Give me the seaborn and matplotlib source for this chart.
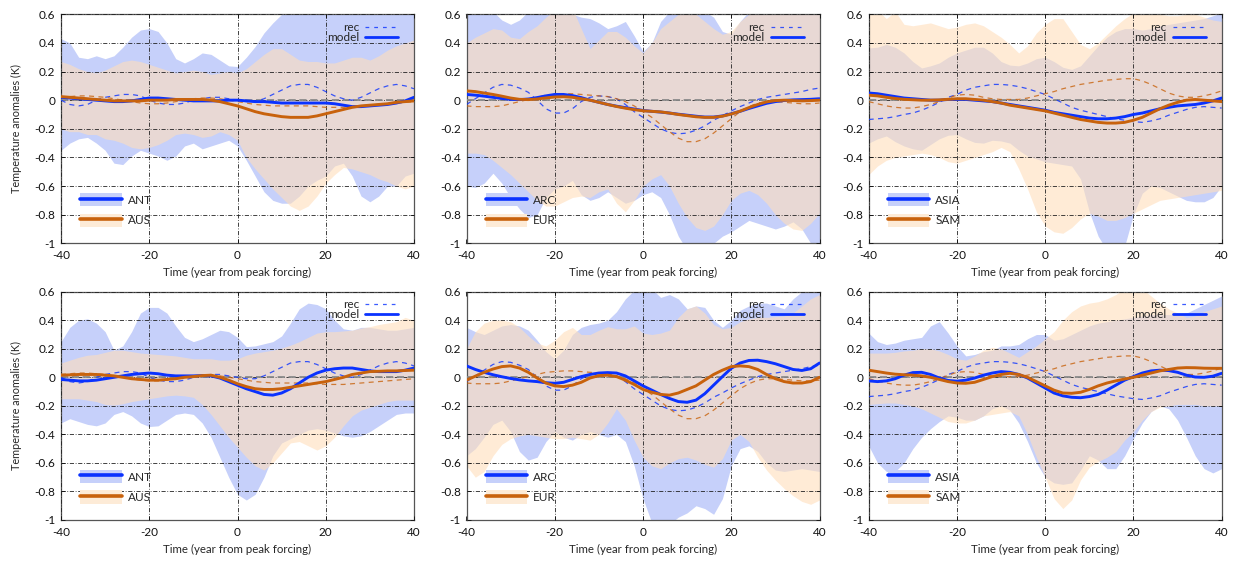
import matplotlib
matplotlib.use("Agg")
import matplotlib.pyplot as plt
from matplotlib.lines import Line2D
from matplotlib.patches import Patch
import seaborn as sns

# time axis (years from peak forcing)
years = list(range(-40, 41, 2))

# reconstructions (same in both rows)
rec_ant = [0.00, -0.03, -0.04, -0.03, 0.00, 0.02, 0.03, 0.04, 0.04, 0.03,
           0.00, -0.02, -0.03, -0.03, -0.02, 0.00, 0.01, 0.02, 0.02, 0.01,
           0.00, -0.01, -0.01, 0.01, 0.04, 0.07, 0.10, 0.11, 0.11, 0.09,
           0.06, 0.03, 0.01, 0.00, 0.02, 0.05, 0.08, 0.10, 0.11, 0.10,
           0.08]
rec_aus = [0.02, 0.025, 0.03, 0.03, 0.025, 0.02, 0.01, 0.0, -0.01, -0.02,
           -0.025, -0.025, -0.02, -0.01, 0.0, 0.01, 0.015, 0.015, 0.01, 0.0,
           -0.01, -0.02, -0.03, -0.035, -0.04, -0.04, -0.04, -0.04, -0.04, -0.045,
           -0.05, -0.05, -0.05, -0.045, -0.04, -0.035, -0.03, -0.025, -0.02, -0.015,
           -0.01]
rec_arc = [-0.03, 0.01, 0.05, 0.09, 0.11, 0.105, 0.085, 0.055, 0.0, -0.06,
           -0.09, -0.09, -0.06, -0.01, 0.02, 0.03, 0.025, 0.01, -0.03, -0.08,
           -0.12, -0.16, -0.20, -0.225, -0.235, -0.23, -0.21, -0.18, -0.14, -0.11,
           -0.075, -0.045, -0.02, 0.005, 0.02, 0.03, 0.04, 0.05, 0.06, 0.075,
           0.085]
rec_eur = [-0.04, -0.045, -0.045, -0.045, -0.04, -0.025, -0.01, 0.005, 0.02, 0.035,
           0.04, 0.045, 0.045, 0.04, 0.035, 0.03, 0.025, 0.01, -0.01, -0.04,
           -0.08, -0.12, -0.17, -0.22, -0.265, -0.29, -0.29, -0.27, -0.23, -0.18,
           -0.13, -0.08, -0.045, -0.02, -0.01, -0.01, -0.015, -0.02, -0.025, -0.025,
           -0.02]
rec_asia = [-0.135, -0.13, -0.125, -0.115, -0.10, -0.09, -0.07, -0.045, -0.015, 0.02,
            0.04, 0.07, 0.09, 0.10, 0.11, 0.11, 0.105, 0.095, 0.08, 0.06,
            0.04, 0.01, -0.02, -0.05, -0.07, -0.085, -0.10, -0.115, -0.13, -0.14,
            -0.15, -0.155, -0.145, -0.13, -0.105, -0.085, -0.065, -0.05, -0.045, -0.05,
            -0.055]
rec_sam = [-0.01, -0.025, -0.04, -0.05, -0.055, -0.055, -0.045, -0.03, -0.01, 0.015,
           0.035, 0.04, 0.035, 0.02, 0.01, 0.005, 0.005, 0.005, 0.015, 0.03,
           0.045, 0.06, 0.08, 0.095, 0.11, 0.12, 0.13, 0.14, 0.145, 0.15,
           0.15, 0.135, 0.11, 0.08, 0.05, 0.03, 0.02, 0.02, 0.03, 0.045,
           0.065]

# top row: model mean and spread
top_ant = [0.02, 0.015, 0.01, 0.005, 0.0, -0.005, -0.01, -0.01, -0.005, 0.005,
           0.015, 0.015, 0.01, 0.005, 0.0, -0.005, -0.005, -0.005, -0.005, 0.0,
           0.0, -0.005, -0.01, -0.01, -0.015, -0.02, -0.02, -0.02, -0.02, -0.02,
           -0.02, -0.025, -0.035, -0.045, -0.045, -0.04, -0.035, -0.03, -0.02, -0.005,
           0.02]
top_aus = [0.025, 0.02, 0.015, 0.01, 0.005, 0.0, -0.005, -0.005, -0.005, -0.005,
           0.0, 0.0, 0.0, 0.005, 0.005, 0.005, 0.005, 0.0, -0.01, -0.025,
           -0.04, -0.06, -0.08, -0.095, -0.105, -0.115, -0.12, -0.12, -0.12, -0.11,
           -0.095, -0.08, -0.065, -0.05, -0.04, -0.035, -0.03, -0.025, -0.015, -0.01,
           -0.005]
top_arc = [0.04, 0.035, 0.028, 0.02, 0.012, 0.006, 0.004, 0.008, 0.018, 0.03,
           0.04, 0.04, 0.032, 0.018, 0.0, -0.015, -0.03, -0.042, -0.052, -0.062,
           -0.072, -0.078, -0.083, -0.09, -0.098, -0.105, -0.112, -0.118, -0.118, -0.11,
           -0.095, -0.078, -0.058, -0.04, -0.022, -0.01, -0.002, 0.002, 0.004, 0.006,
           0.01]
top_eur = [0.065, 0.06, 0.05, 0.04, 0.028, 0.015, 0.006, 0.004, 0.008, 0.016,
           0.022, 0.024, 0.02, 0.01, 0.0, -0.015, -0.03, -0.044, -0.056, -0.066,
           -0.074, -0.078, -0.082, -0.09, -0.1, -0.108, -0.116, -0.12, -0.12, -0.112,
           -0.097, -0.077, -0.052, -0.03, -0.012, -0.003, 0.0, -0.003, -0.005, -0.003,
           0.0]
top_asia = [0.05, 0.045, 0.035, 0.025, 0.015, 0.01, 0.005, 0.0, 0.0, 0.005,
            0.005, 0.005, 0.0, -0.005, -0.01, -0.02, -0.03, -0.04, -0.05, -0.06,
            -0.07, -0.085, -0.095, -0.105, -0.115, -0.125, -0.13, -0.13, -0.125, -0.115,
            -0.10, -0.09, -0.075, -0.06, -0.05, -0.04, -0.035, -0.03, -0.02, -0.005,
            0.015]
top_sam = [0.035, 0.03, 0.02, 0.012, 0.006, 0.003, 0.0, 0.0, 0.002, 0.006,
           0.01, 0.01, 0.005, 0.0, -0.01, -0.02, -0.035, -0.045, -0.055, -0.065,
           -0.075, -0.09, -0.105, -0.12, -0.135, -0.145, -0.155, -0.16, -0.16, -0.155,
           -0.14, -0.12, -0.09, -0.06, -0.035, -0.015, 0.0, 0.005, 0.0, -0.005,
           -0.01]

top_ant_hi = [0.43, 0.40, 0.30, 0.29, 0.31, 0.29, 0.31, 0.37, 0.44, 0.49,
              0.50, 0.48, 0.40, 0.29, 0.26, 0.29, 0.33, 0.32, 0.28, 0.24,
              0.235, 0.30, 0.375, 0.47, 0.54, 0.60, 0.64, 0.66, 0.66, 0.65,
              0.64, 0.63, 0.62, 0.63, 0.64, 0.65, 0.65, 0.64, 0.63, 0.64,
              0.66]
top_ant_lo = [-0.35, -0.30, -0.27, -0.26, -0.30, -0.35, -0.44, -0.45, -0.39, -0.35,
              -0.37, -0.39, -0.42, -0.39, -0.32, -0.30, -0.34, -0.32, -0.30, -0.28,
              -0.32, -0.42, -0.53, -0.64, -0.70, -0.72, -0.72, -0.67, -0.60, -0.56,
              -0.53, -0.46, -0.44, -0.53, -0.67, -0.71, -0.67, -0.60, -0.60, -0.53,
              -0.51]
top_aus_hi = [0.27, 0.25, 0.22, 0.20, 0.19, 0.21, 0.24, 0.27, 0.28, 0.27,
              0.25, 0.23, 0.21, 0.19, 0.20, 0.21, 0.20, 0.18, 0.19, 0.20,
              0.19, 0.22, 0.27, 0.32, 0.36, 0.36, 0.32, 0.28, 0.27, 0.27,
              0.26, 0.26, 0.28, 0.30, 0.30, 0.28, 0.31, 0.35, 0.38, 0.40,
              0.42]
top_aus_lo = [-0.20, -0.22, -0.22, -0.24, -0.24, -0.27, -0.28, -0.30, -0.33, -0.34,
              -0.33, -0.31, -0.28, -0.24, -0.23, -0.24, -0.26, -0.25, -0.22, -0.24,
              -0.28, -0.40, -0.48, -0.55, -0.62, -0.68, -0.74, -0.77, -0.74, -0.67,
              -0.58, -0.52, -0.47, -0.48, -0.50, -0.52, -0.55, -0.57, -0.60, -0.62,
              -0.60]
top_arc_hi = [0.62, 0.64, 0.64, 0.62, 0.56, 0.53, 0.56, 0.62, 0.64, 0.64,
              0.63, 0.62, 0.60, 0.58, 0.57, 0.54, 0.50, 0.52, 0.55, 0.45,
              0.34, 0.40, 0.55, 0.62, 0.64, 0.64, 0.63, 0.62, 0.58, 0.48,
              0.46, 0.55, 0.62, 0.64, 0.65, 0.65, 0.64, 0.64, 0.64, 0.65,
              0.65]
top_arc_lo = [-0.60, -0.61, -0.58, -0.51, -0.58, -0.68, -0.76, -0.82, -0.80, -0.68,
              -0.62, -0.60, -0.56, -0.66, -0.70, -0.68, -0.64, -0.68, -0.72, -0.70,
              -0.66, -0.64, -0.68, -0.80, -0.95, -1.05, -1.08, -1.06, -1.00, -0.95,
              -0.92, -0.88, -0.84, -0.86, -0.88, -0.90, -0.88, -0.85, -0.90, -1.00,
              -1.05]
top_eur_hi = [0.40, 0.44, 0.47, 0.50, 0.49, 0.44, 0.43, 0.48, 0.52, 0.58,
              0.63, 0.66, 0.64, 0.50, 0.36, 0.42, 0.48, 0.48, 0.44, 0.38,
              0.33, 0.40, 0.50, 0.55, 0.60, 0.62, 0.60, 0.55, 0.50, 0.46,
              0.48, 0.55, 0.60, 0.62, 0.63, 0.63, 0.63, 0.62, 0.62, 0.63,
              0.64]
top_eur_lo = [-0.37, -0.37, -0.38, -0.42, -0.47, -0.52, -0.58, -0.64, -0.70, -0.74,
              -0.74, -0.71, -0.68, -0.67, -0.68, -0.64, -0.62, -0.72, -0.78, -0.70,
              -0.60, -0.55, -0.52, -0.60, -0.72, -0.82, -0.89, -0.91, -0.88, -0.80,
              -0.70, -0.65, -0.63, -0.66, -0.72, -0.80, -0.86, -0.90, -0.91, -0.86,
              -0.79]
top_asia_hi = [0.365, 0.37, 0.39, 0.37, 0.33, 0.27, 0.225, 0.24, 0.26, 0.30,
               0.33, 0.35, 0.37, 0.37, 0.33, 0.27, 0.245, 0.24, 0.26, 0.29,
               0.30, 0.27, 0.23, 0.215, 0.24, 0.31, 0.38, 0.44, 0.48, 0.50,
               0.50, 0.49, 0.50, 0.52, 0.53, 0.54, 0.55, 0.56, 0.57, 0.59,
               0.61]
top_asia_lo = [-0.30, -0.27, -0.25, -0.29, -0.32, -0.34, -0.35, -0.31, -0.27, -0.245,
               -0.24, -0.27, -0.295, -0.30, -0.28, -0.285, -0.30, -0.35, -0.39, -0.41,
               -0.43, -0.44, -0.45, -0.46, -0.55, -0.78, -0.95, -1.05, -1.07, -1.02,
               -0.80, -0.65, -0.60, -0.61, -0.64, -0.67, -0.70, -0.71, -0.71, -0.68,
               -0.60]
top_sam_hi = [0.64, 0.63, 0.57, 0.62, 0.53, 0.52, 0.53, 0.54, 0.52, 0.50,
              0.51, 0.53, 0.54, 0.52, 0.48, 0.44, 0.39, 0.33, 0.38, 0.47,
              0.53, 0.57, 0.57, 0.48, 0.39, 0.36, 0.40, 0.46, 0.52, 0.57,
              0.61, 0.63, 0.62, 0.60, 0.59, 0.59, 0.60, 0.60, 0.58, 0.56,
              0.55]
top_sam_lo = [-0.52, -0.46, -0.42, -0.40, -0.39, -0.38, -0.37, -0.38, -0.40, -0.43,
              -0.44, -0.42, -0.40, -0.38, -0.36, -0.33, -0.36, -0.48, -0.62, -0.78,
              -0.88, -0.92, -0.93, -0.89, -0.83, -0.79, -0.81, -0.84, -0.84, -0.82,
              -0.79, -0.76, -0.73, -0.70, -0.69, -0.68, -0.67, -0.66, -0.65, -0.64,
              -0.63]

# bottom row: model mean and spread
bot_ant = [-0.015, -0.02, -0.025, -0.025, -0.02, -0.01, 0.0, 0.01, 0.02, 0.025,
           0.03, 0.025, 0.015, 0.01, 0.01, 0.01, 0.012, 0.01, -0.005, -0.03,
           -0.055, -0.08, -0.10, -0.12, -0.125, -0.11, -0.08, -0.04, 0.0, 0.03,
           0.05, 0.06, 0.065, 0.065, 0.055, 0.045, 0.04, 0.04, 0.04, 0.05,
           0.065]
bot_aus = [0.015, 0.017, 0.02, 0.02, 0.02, 0.015, 0.01, 0.0, -0.01, -0.015,
           -0.02, -0.02, -0.015, -0.01, 0.0, 0.005, 0.012, 0.015, 0.0, -0.02,
           -0.045, -0.065, -0.08, -0.085, -0.085, -0.08, -0.07, -0.06, -0.05, -0.04,
           -0.03, -0.015, 0.0, 0.02, 0.03, 0.04, 0.042, 0.045, 0.045, 0.048,
           0.05]
bot_arc = [0.08, 0.055, 0.035, 0.018, 0.004, -0.008, -0.018, -0.025, -0.03, -0.038,
           -0.042, -0.035, -0.015, 0.005, 0.02, 0.03, 0.033, 0.03, 0.01, -0.025,
           -0.06, -0.09, -0.12, -0.148, -0.17, -0.175, -0.16, -0.115, -0.055, 0.005,
           0.063, 0.10, 0.118, 0.12, 0.11, 0.095, 0.075, 0.055, 0.048, 0.06,
           0.10]
bot_eur = [-0.02, 0.008, 0.035, 0.058, 0.075, 0.08, 0.065, 0.035, -0.005, -0.04,
           -0.06, -0.065, -0.055, -0.035, -0.005, 0.012, 0.015, 0.005, -0.02, -0.05,
           -0.085, -0.105, -0.12, -0.125, -0.11, -0.085, -0.06, -0.02, 0.02, 0.05,
           0.075, 0.08, 0.075, 0.055, 0.02, -0.01, -0.03, -0.04, -0.04, -0.03,
           0.0]
bot_asia = [-0.025, -0.03, -0.025, -0.01, 0.015, 0.033, 0.035, 0.02, -0.005, -0.022,
            -0.027, -0.02, -0.005, 0.015, 0.03, 0.04, 0.035, 0.02, -0.005, -0.04,
            -0.075, -0.11, -0.13, -0.14, -0.143, -0.135, -0.12, -0.09, -0.055, -0.02,
            0.005, 0.03, 0.045, 0.05, 0.047, 0.035, 0.015, 0.002, 0.0, 0.008,
            0.028]
bot_sam = [0.05, 0.04, 0.03, 0.022, 0.018, 0.015, 0.01, 0.0, -0.015, -0.03,
           -0.04, -0.042, -0.035, -0.015, 0.005, 0.02, 0.028, 0.02, 0.0, -0.03,
           -0.06, -0.09, -0.11, -0.112, -0.105, -0.085, -0.06, -0.04, -0.025, -0.012,
           0.0, 0.015, 0.03, 0.045, 0.055, 0.065, 0.068, 0.067, 0.064, 0.063,
           0.063]

bot_ant_hi = [0.25, 0.35, 0.40, 0.41, 0.38, 0.32, 0.19, 0.22, 0.32, 0.45,
              0.49, 0.49, 0.45, 0.36, 0.28, 0.25, 0.27, 0.30, 0.33, 0.32,
              0.28, 0.215, 0.22, 0.235, 0.25, 0.29, 0.38, 0.48, 0.52, 0.51,
              0.48, 0.40, 0.34, 0.33, 0.35, 0.35, 0.34, 0.33, 0.33, 0.34,
              0.35]
bot_ant_lo = [-0.32, -0.29, -0.31, -0.33, -0.34, -0.32, -0.26, -0.24, -0.27, -0.32,
              -0.345, -0.34, -0.30, -0.26, -0.25, -0.26, -0.32, -0.42, -0.56, -0.70,
              -0.82, -0.86, -0.82, -0.70, -0.55, -0.46, -0.43, -0.40, -0.37, -0.36,
              -0.37, -0.39, -0.41, -0.42, -0.41, -0.38, -0.34, -0.30, -0.26, -0.25,
              -0.25]
bot_aus_hi = [0.10, 0.12, 0.14, 0.155, 0.16, 0.175, 0.19, 0.19, 0.18, 0.17,
              0.165, 0.16, 0.155, 0.15, 0.14, 0.13, 0.13, 0.13, 0.12, 0.12,
              0.13, 0.155, 0.17, 0.18, 0.19, 0.205, 0.225, 0.25, 0.28, 0.31,
              0.32, 0.32, 0.325, 0.33, 0.345, 0.355, 0.37, 0.38, 0.39, 0.42,
              0.40]
bot_aus_lo = [-0.15, -0.15, -0.15, -0.16, -0.17, -0.19, -0.195, -0.185, -0.17, -0.16,
              -0.15, -0.14, -0.13, -0.125, -0.13, -0.14, -0.19, -0.26, -0.34, -0.42,
              -0.49, -0.56, -0.62, -0.65, -0.60, -0.53, -0.46, -0.45, -0.48, -0.51,
              -0.48, -0.42, -0.34, -0.27, -0.23, -0.21, -0.19, -0.17, -0.16, -0.16,
              -0.16]
bot_arc_hi = [0.35, 0.32, 0.30, 0.33, 0.36, 0.37, 0.36, 0.33, 0.26, 0.18,
              0.13, 0.19, 0.30, 0.35, 0.37, 0.38, 0.40, 0.46, 0.55, 0.61,
              0.64, 0.62, 0.56, 0.58, 0.55, 0.48, 0.50, 0.49, 0.40, 0.35,
              0.40, 0.47, 0.50, 0.52, 0.52, 0.50, 0.48, 0.55, 0.60, 0.63,
              0.64]
bot_arc_lo = [-0.55, -0.50, -0.42, -0.33, -0.30, -0.38, -0.52, -0.58, -0.56, -0.45,
              -0.38, -0.42, -0.44, -0.40, -0.38, -0.40, -0.42, -0.40, -0.45, -0.62,
              -0.85, -1.02, -1.06, -1.03, -0.98, -0.95, -0.90, -0.92, -0.96, -0.85,
              -0.62, -0.50, -0.48, -0.52, -0.60, -0.65, -0.66, -0.65, -0.64, -0.65,
              -0.66]
bot_eur_hi = [0.20, 0.32, 0.38, 0.40, 0.40, 0.39, 0.35, 0.29, 0.24, 0.22,
              0.26, 0.32, 0.35, 0.30, 0.30, 0.33, 0.355, 0.34, 0.34, 0.36,
              0.31, 0.30, 0.31, 0.33, 0.42, 0.48, 0.50, 0.45, 0.37, 0.34,
              0.35, 0.39, 0.41, 0.42, 0.42, 0.425, 0.43, 0.45, 0.50, 0.55,
              0.58]
bot_eur_lo = [-0.62, -0.70, -0.66, -0.55, -0.47, -0.43, -0.41, -0.40, -0.41, -0.42,
              -0.43, -0.43, -0.42, -0.43, -0.44, -0.40, -0.32, -0.22, -0.30, -0.44,
              -0.56, -0.62, -0.64, -0.60, -0.57, -0.56, -0.58, -0.61, -0.63, -0.57,
              -0.44, -0.40, -0.45, -0.56, -0.65, -0.72, -0.78, -0.83, -0.87, -0.89,
              -0.86]
bot_asia_hi = [0.31, 0.25, 0.23, 0.24, 0.26, 0.27, 0.28, 0.36, 0.39, 0.31,
               0.22, 0.15, 0.16, 0.18, 0.19, 0.22, 0.22, 0.23, 0.27, 0.30,
               0.30, 0.26, 0.27, 0.30, 0.33, 0.36, 0.38, 0.39, 0.40, 0.41,
               0.42, 0.43, 0.44, 0.44, 0.44, 0.44, 0.45, 0.48, 0.51, 0.54,
               0.57]
bot_asia_lo = [-0.48, -0.60, -0.66, -0.66, -0.60, -0.50, -0.42, -0.36, -0.31, -0.27,
               -0.28, -0.30, -0.30, -0.27, -0.22, -0.20, -0.23, -0.32, -0.45, -0.60,
               -0.70, -0.74, -0.75, -0.74, -0.65, -0.55, -0.58, -0.64, -0.64, -0.55,
               -0.43, -0.32, -0.24, -0.20, -0.22, -0.30, -0.42, -0.55, -0.64, -0.67,
               -0.64]
bot_sam_hi = [0.17, 0.17, 0.17, 0.175, 0.185, 0.19, 0.20, 0.20, 0.185, 0.16,
              0.13, 0.12, 0.15, 0.19, 0.21, 0.20, 0.17, 0.14, 0.18, 0.22,
              0.27, 0.32, 0.40, 0.46, 0.50, 0.52, 0.53, 0.55, 0.58, 0.62,
              0.64, 0.62, 0.57, 0.52, 0.48, 0.45, 0.42, 0.43, 0.46, 0.48,
              0.50]
bot_sam_lo = [-0.19, -0.185, -0.18, -0.18, -0.19, -0.20, -0.22, -0.25, -0.28, -0.31,
              -0.32, -0.32, -0.30, -0.27, -0.26, -0.25, -0.24, -0.27, -0.40, -0.56,
              -0.70, -0.85, -0.92, -0.86, -0.72, -0.63, -0.59, -0.56, -0.52, -0.44,
              -0.38, -0.30, -0.24, -0.21, -0.20, -0.19, -0.19, -0.19, -0.20, -0.20,
              -0.20]

yticks = [0.6, 0.4, 0.2, 0, -0.2, -0.4, -0.6, -0.8, -1]
xticks = [-40, -20, 0, 20, 40]

BLUE = "#0a32ff"
ORANGE = "#c8620c"
BLUE_BAND = "#c6d0fa"
ORANGE_BAND = "#ffdfbc"
ORANGE_BAND_SOLID = "#fdebd7"

sns.set_theme(style="ticks")
plt.rcParams["font.family"] = ["Lato", "DejaVu Sans"]
plt.rcParams["axes.unicode_minus"] = False

fig = plt.figure(figsize=(12.38, 5.62), dpi=100)
W, H = 1238.0, 562.0
col_left = [61, 466.5, 868.7]
row_top = [(14.3, 243.3), (291.7, 520)]
aw = 353

FS = 8.5


def draw_panel(ax, blue_name, orange_name, b_mod, b_lo, b_hi, o_mod, o_lo, o_hi,
               b_rec, o_rec, ylab):
    ax.fill_between(years, b_lo, b_hi, color=BLUE_BAND, lw=0, zorder=1)
    ax.fill_between(years, o_lo, o_hi, color=ORANGE_BAND, alpha=0.6, lw=0, zorder=1.1)
    ax.axhline(0, color="#8a8a8a", lw=1.3, ls=(0, (4, 2)), zorder=2.6)
    sns.lineplot(x=years, y=b_rec, ax=ax, color=BLUE, lw=0.9, alpha=0.8,
                 linestyle=(0, (4, 3.5)), zorder=3)
    sns.lineplot(x=years, y=o_rec, ax=ax, color=ORANGE, lw=0.9, alpha=0.8,
                 linestyle=(0, (4, 3.5)), zorder=3)
    sns.lineplot(x=years, y=b_mod, ax=ax, color=BLUE, lw=2.1, zorder=4)
    sns.lineplot(x=years, y=o_mod, ax=ax, color=ORANGE, lw=2.1, zorder=4.1)

    ax.set_xlim(-40, 40)
    ax.set_ylim(-1, 0.6)
    ax.set_xticks(xticks)
    ax.set_yticks(yticks)
    ax.set_yticklabels([f"{v:g}" for v in yticks])
    ax.set_axisbelow(False)
    ax.grid(True, color="#222222", lw=0.6, ls=(0, (5, 2, 1, 2)))
    ax.tick_params(direction="in", length=3, width=0.6, labelsize=FS,
                   colors="#111111", top=True, right=True)
    ax.tick_params(axis="x", pad=5)
    ax.tick_params(axis="y", pad=4)
    for s in ax.spines.values():
        s.set_color("#555555")
        s.set_linewidth(0.9)
    ax.set_xlabel("Time (year from peak forcing)", fontsize=8.3, labelpad=4)
    if ylab:
        ax.set_ylabel("Temperature anomalies (K)", fontsize=7.8, labelpad=9)
    else:
        ax.set_ylabel("")

    h_rec = Line2D([], [], color=BLUE, lw=0.9, alpha=0.8, ls=(0, (3, 4)))
    h_mod = Line2D([], [], color=BLUE, lw=2.0)
    leg1 = ax.legend([h_rec, h_mod], ["rec", "model"], loc="upper right",
                     bbox_to_anchor=(0.955, 0.967), frameon=False,
                     markerfirst=False, fontsize=FS, handlelength=2.8,
                     labelspacing=-0.1, borderaxespad=0.0,
                     handletextpad=0.5, borderpad=0.0)
    ax.add_artist(leg1)

    h_b = (Patch(facecolor=BLUE_BAND, edgecolor="none"),
           Line2D([], [], color=BLUE, lw=2.6))
    h_o = (Patch(facecolor=ORANGE_BAND_SOLID, edgecolor="none"),
           Line2D([], [], color=ORANGE, lw=2.6))
    ax.legend([h_b, h_o], [blue_name, orange_name], loc="lower left",
              bbox_to_anchor=(0.055, 0.072), frameon=False, fontsize=FS,
              handlelength=3.5, handleheight=1.35, labelspacing=0.6,
              handletextpad=0.5, borderpad=0.0, borderaxespad=0.0)


panels = [
    (0, 0, "ANT", "AUS", top_ant, top_ant_lo, top_ant_hi, top_aus, top_aus_lo, top_aus_hi, rec_ant, rec_aus),
    (0, 1, "ARC", "EUR", top_arc, top_arc_lo, top_arc_hi, top_eur, top_eur_lo, top_eur_hi, rec_arc, rec_eur),
    (0, 2, "ASIA", "SAM", top_asia, top_asia_lo, top_asia_hi, top_sam, top_sam_lo, top_sam_hi, rec_asia, rec_sam),
    (1, 0, "ANT", "AUS", bot_ant, bot_ant_lo, bot_ant_hi, bot_aus, bot_aus_lo, bot_aus_hi, rec_ant, rec_aus),
    (1, 1, "ARC", "EUR", bot_arc, bot_arc_lo, bot_arc_hi, bot_eur, bot_eur_lo, bot_eur_hi, rec_arc, rec_eur),
    (1, 2, "ASIA", "SAM", bot_asia, bot_asia_lo, bot_asia_hi, bot_sam, bot_sam_lo, bot_sam_hi, rec_asia, rec_sam),
]

for r, c, bn, on, bm, bl, bh, om, ol, oh, br, orr in panels:
    top, bottom = row_top[r]
    ax = fig.add_axes([col_left[c] / W, 1 - bottom / H, aw / W, (bottom - top) / H])
    draw_panel(ax, bn, on, bm, bl, bh, om, ol, oh, br, orr, c == 0)

fig.savefig("out.png", dpi=100)
